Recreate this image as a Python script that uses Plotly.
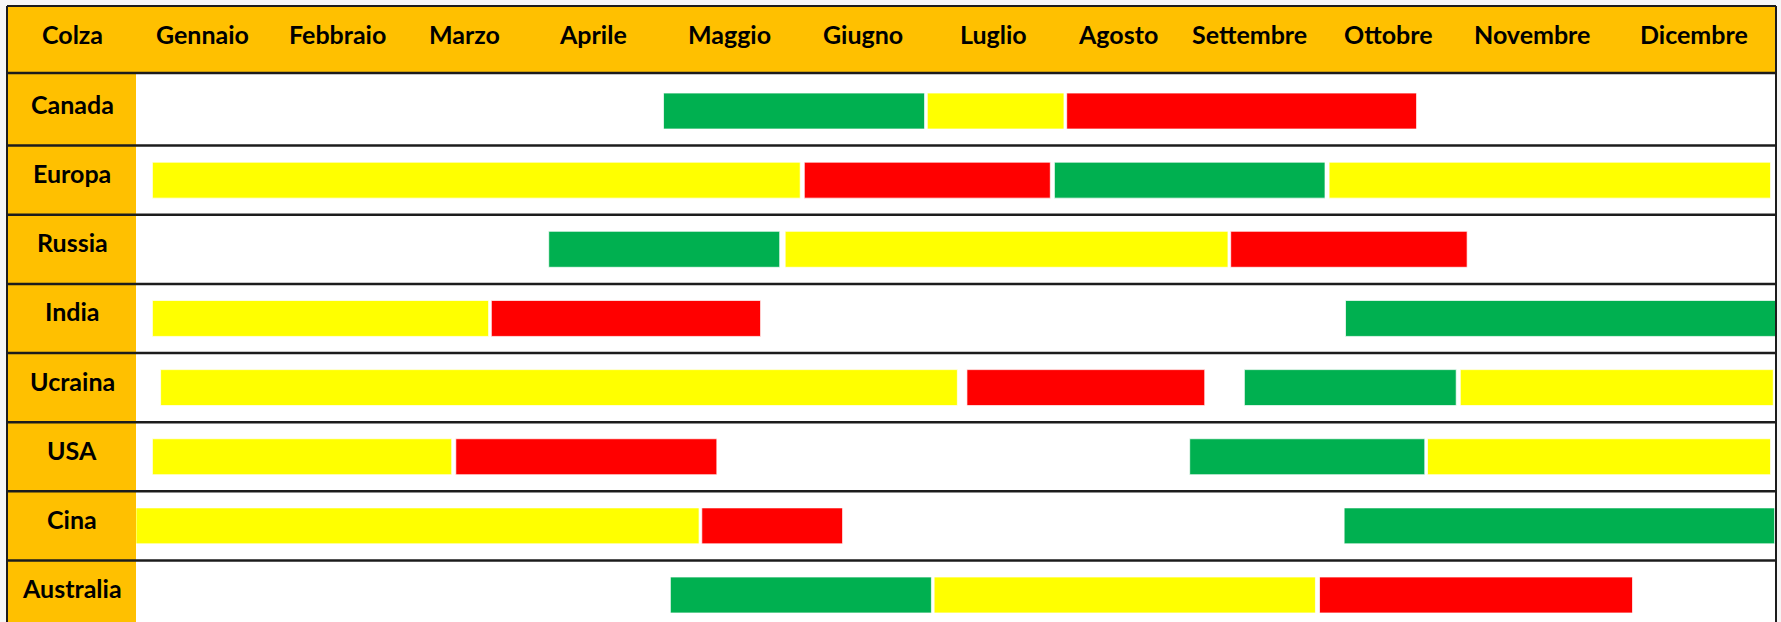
import plotly.graph_objects as go

# ---------------- data ----------------
corner_label = "Colza"
months = ["Gennaio", "Febbraio", "Marzo", "Aprile", "Maggio", "Giugno",
          "Luglio", "Agosto", "Settembre", "Ottobre", "Novembre", "Dicembre"]
countries = ["Canada", "Europa", "Russia", "India", "Ucraina", "USA", "Cina", "Australia"]

# green phase (month units, 0 = start of Gennaio, 12 = end of Dicembre)
green_country = ["Canada", "Europa", "Russia", "India", "Ucraina", "USA", "Cina", "Australia"]
green_start = [3.86, 6.72, 3.02, 8.85, 8.11, 7.71, 8.84, 3.91]
green_end = [5.77, 8.70, 4.71, 12.00, 9.66, 9.43, 11.99, 5.82]

# yellow phase
yellow_country = ["Canada", "Europa", "Europa", "Russia", "India", "Ucraina", "Ucraina",
                  "USA", "USA", "Cina", "Australia"]
yellow_start = [5.79, 0.12, 8.73, 4.75, 0.12, 0.18, 9.69, 0.12, 9.45, 0.00, 5.84]
yellow_end = [6.79, 4.86, 11.96, 7.99, 2.58, 6.01, 11.98, 2.31, 11.96, 4.12, 8.63]

# red phase
red_country = ["Canada", "Europa", "Russia", "India", "Ucraina", "USA", "Cina", "Australia"]
red_start = [6.81, 4.89, 8.01, 2.60, 6.08, 2.34, 4.14, 8.66]
red_end = [9.37, 6.69, 9.74, 4.57, 7.82, 4.25, 5.17, 10.95]

# ---------------- layout helpers ----------------
W, H = 1781, 622
PL, PR, PT, PB = 136, 1776, 73, 622          # plot area in pixels
FRAME_L, FRAME_T = 7, 6                        # outer frame of the table
ROW_PX = 69.14                                 # row height in pixels


def px_x(p):
    return (p - PL) / (PR - PL)


def px_y(p):
    return (PB - p) / (PB - PT)


month_label_x = [0.483, 1.478, 2.407, 3.344, 4.339, 5.320, 6.278, 7.185, 8.144,
                 9.161, 10.215, 11.400]

ORANGE = "#FFC000"
GREEN = "#00B050"
YELLOW = "#FFFF00"
RED = "#FF0000"
LINE = "#1c1c1c"
FONT = "Lato, sans-serif"
FSIZE = 25

fig = go.Figure()


def add_phase(cty, start, end, color):
    fig.add_trace(go.Bar(
        orientation="h",
        y=cty,
        base=start,
        x=[e - s for s, e in zip(start, end)],
        width=0.52,
        marker=dict(color=color, line=dict(color="rgba(255,255,255,0.7)", width=1)),
        showlegend=False,
        hoverinfo="skip",
    ))


add_phase(green_country, green_start, green_end, GREEN)
add_phase(yellow_country, yellow_start, yellow_end, YELLOW)
add_phase(red_country, red_start, red_end, RED)

shapes = []
# header band
shapes.append(dict(type="rect", xref="paper", yref="paper",
                   x0=px_x(FRAME_L), x1=1.0, y0=1.0, y1=px_y(FRAME_T),
                   fillcolor=ORANGE, line=dict(width=0), layer="below"))
# left column band
shapes.append(dict(type="rect", xref="paper", yref="paper",
                   x0=px_x(FRAME_L), x1=0.0, y0=0.0, y1=1.0,
                   fillcolor=ORANGE, line=dict(width=0), layer="below"))
# header bottom line
shapes.append(dict(type="line", xref="paper", yref="paper",
                   x0=px_x(FRAME_L), x1=1.0, y0=1.0, y1=1.0,
                   line=dict(color=LINE, width=2.5), layer="above"))
# row separators between rows
for k in range(1, len(countries)):
    shapes.append(dict(type="line", xref="paper", yref="y",
                       x0=px_x(FRAME_L), x1=1.0, y0=k - 0.5, y1=k - 0.5,
                       line=dict(color=LINE, width=2.5), layer="above"))
# outer frame
shapes.append(dict(type="line", xref="paper", yref="paper",
                   x0=px_x(FRAME_L), x1=1.0, y0=px_y(FRAME_T), y1=px_y(FRAME_T),
                   line=dict(color=LINE, width=2)))
shapes.append(dict(type="line", xref="paper", yref="paper",
                   x0=px_x(FRAME_L), x1=px_x(FRAME_L), y0=0, y1=px_y(FRAME_T),
                   line=dict(color=LINE, width=2)))
shapes.append(dict(type="line", xref="paper", yref="paper",
                   x0=1.0, x1=1.0, y0=0, y1=px_y(FRAME_T),
                   line=dict(color=LINE, width=2)))

annotations = []
label_font = dict(family=FONT, size=FSIZE, color="black")
# header labels
annotations.append(dict(text="<b>%s</b>" % corner_label, xref="paper", yref="paper",
                        x=px_x(72), y=px_y(34), showarrow=False,
                        xanchor="center", yanchor="middle", font=label_font))
for m, xv in zip(months, month_label_x):
    annotations.append(dict(text="<b>%s</b>" % m, xref="x", yref="paper",
                            x=xv, y=px_y(34), showarrow=False,
                            xanchor="center", yanchor="middle", font=label_font))
# row labels
for c in countries:
    annotations.append(dict(text="<b>%s</b>" % c, xref="paper", yref="y",
                            x=px_x(72), y=c, yshift=7, showarrow=False,
                            xanchor="center", yanchor="middle", font=label_font))

n_vis = (PB - PT) / ROW_PX
fig.update_layout(
    width=W, height=H,
    margin=dict(l=PL, r=W - PR, t=PT, b=H - PB, pad=0),
    paper_bgcolor="#f6f6f6",
    plot_bgcolor="white",
    barmode="overlay",
    shapes=shapes,
    annotations=annotations,
    xaxis=dict(range=[0, 12], showgrid=False, zeroline=False, showticklabels=False,
               ticks="", showline=False, fixedrange=True),
    yaxis=dict(type="category", categoryorder="array", categoryarray=countries,
               range=[-0.5 + n_vis - 0.05, -0.5 - 0.05], showgrid=False, zeroline=False,
               showticklabels=False, ticks="", showline=False, fixedrange=True),
)

fig.write_html("out.html", config={"displayModeBar": False},
               post_script="document.body.style.margin='0px';document.body.style.overflow='hidden';")
